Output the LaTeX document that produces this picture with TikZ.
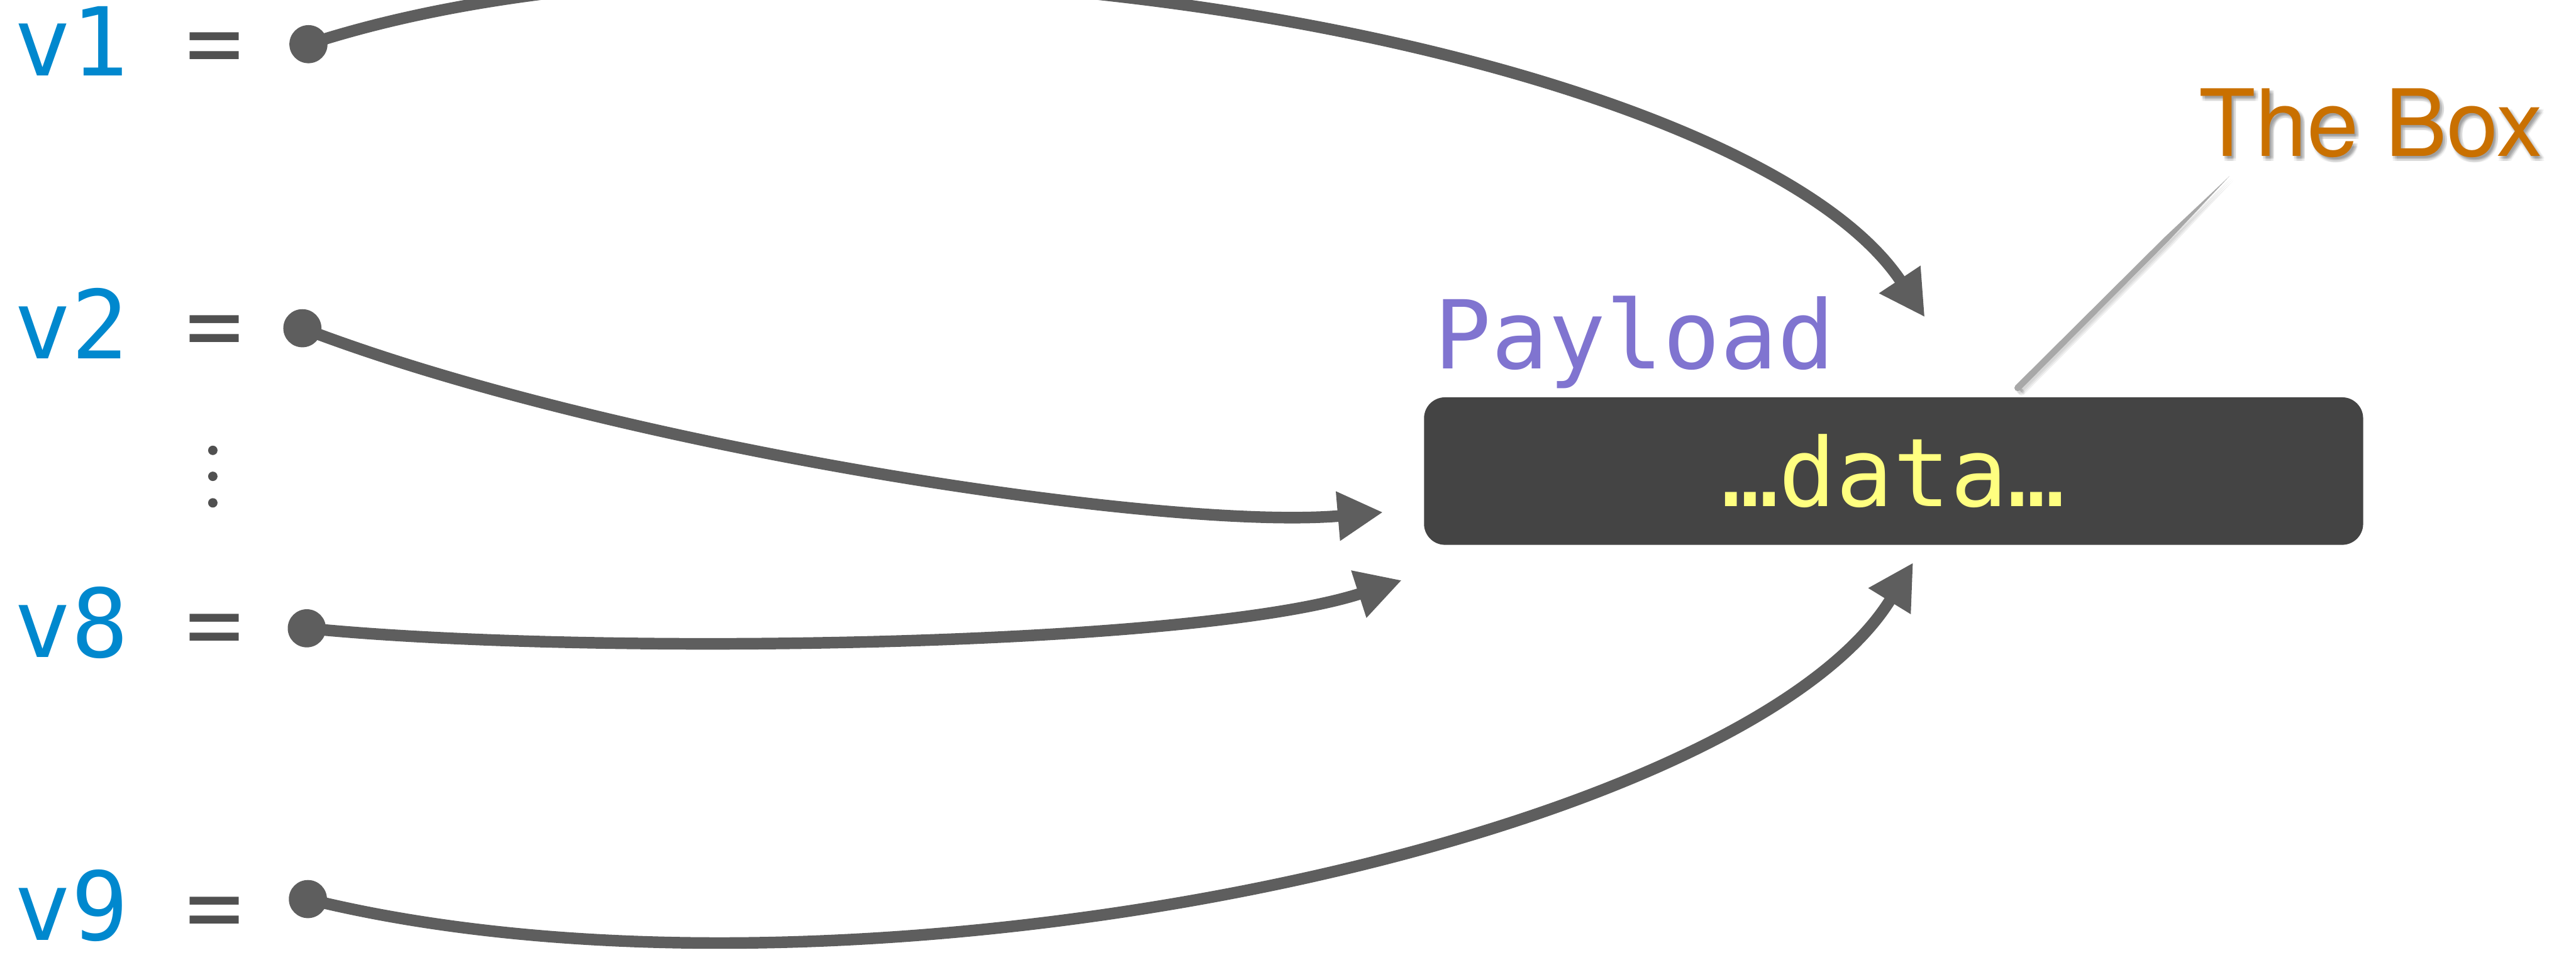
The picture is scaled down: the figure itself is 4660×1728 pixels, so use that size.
\documentclass[tikz,border=0pt]{standalone}
\usepackage{fontspec}
\newfontfamily\codefont{DejaVu Sans Mono}
\newfontfamily\labelfont{TeX Gyre Heros}
\usetikzlibrary{arrows.meta}

\definecolor{wire}{HTML}{5E5E5E}
\definecolor{boxgray}{HTML}{444444}
\definecolor{datayellow}{HTML}{FFFF80}
\definecolor{payloadpurple}{HTML}{8074D0}
\definecolor{varblue}{HTML}{0088CE}
\definecolor{eqgray}{HTML}{505050}
\definecolor{boxorange}{HTML}{C97000}
\definecolor{leadergray}{HTML}{A8A8A8}

\begin{document}
\begin{tikzpicture}[x=0.1pt,y=-0.1pt,
  dot/.style={circle,fill=wire,inner sep=0pt,minimum size=6.9pt},
  wirearrow/.style={draw=wire,line width=2.1pt,
    -{Triangle[length=8.2pt,width=8.4pt]}},
  codetext/.style={inner sep=0pt,font=\codefont\fontsize{17.2}{20}\selectfont},
  varlabel/.style={codetext,anchor=base west},
]
\useasboundingbox (0,0) rectangle (4660,1728);

% variable labels
\node[varlabel] (l1) at (24,137)  {\textcolor{varblue}{v1} \textcolor{eqgray}{=}};
\node[varlabel] (l2) at (24,649)  {\textcolor{varblue}{v2} \textcolor{eqgray}{=}};
\node[varlabel] (l8) at (24,1189) {\textcolor{varblue}{v8} \textcolor{eqgray}{=}};
\node[varlabel] (l9) at (24,1702) {\textcolor{varblue}{v9} \textcolor{eqgray}{=}};

% vertical ellipsis between v2 and v8
\foreach \yy in {815,862,910}
  \fill[eqgray] (385,\yy) circle[radius=0.85pt];

% value dots
\node[dot] (d1) at (558,80)   {};
\node[dot] (d2) at (547,594)  {};
\node[dot] (d8) at (555,1137) {};
\node[dot] (d9) at (557,1627) {};

% the payload box
\node[codetext,fill=boxgray,rounded corners=3.8pt,minimum width=169.9pt,
      minimum height=26.7pt,text=datayellow] (box) at (3425.5,852.5) {…data…};
\node[codetext,anchor=base west,text=payloadpurple] (payload) at (2593,667) {Payload};

% arrow end points around the box
\coordinate (t1) at (3482,574);
\coordinate (t2) at (2502,927);
\coordinate (t8) at (2536,1050);
\coordinate (t9) at (3461,1018);

\draw[wirearrow] (d1.center) .. controls (1461,-214) and (3150,75) .. (t1);
\draw[wirearrow] (d2.center) .. controls (1107,809) and (2104,961) .. (t2);
\draw[wirearrow] (d8.center) .. controls (1053,1187) and (2155,1173) .. (t8);
\draw[wirearrow] (d9.center) .. controls (1527,1867) and (3147,1529) .. (t9);

% callout label with a soft drop shadow
\foreach \dx in {2,5,8}
  \foreach \dy in {3,6,9}
    \node[anchor=base west,inner sep=0pt,text=black,text opacity=0.05,
          font=\labelfont\fontsize{16.8}{20}\selectfont]
      at (3976+\dx,283+\dy) {The Box};
\node[anchor=base west,inner sep=0pt,text=boxorange,
      font=\labelfont\fontsize{16.8}{20}\selectfont] (thebox) at (3976,283) {The Box};

% tapered leader stroke with shadow
\foreach \dx/\dy in {3/4,5/6,7/8}{
  \fill[black,opacity=0.06]
    (3645.8+\dx,697.8+\dy) -- (3914.6+\dx,430.4+\dy) -- (4033+\dx,319+\dy)
    -- (3921.6+\dx,437.4+\dy) -- (3654.2+\dx,706.2+\dy) -- cycle;
  \fill[black,opacity=0.06] (3650+\dx,702+\dy) circle[radius=0.6pt];
}
\coordinate (leadtop) at (4033,319);
\coordinate (leadbot) at (3650,702);
\fill[leadergray] (3645.8,697.8) -- (3914.6,430.4) -- (leadtop)
  -- (3921.6,437.4) -- (3654.2,706.2) -- cycle;
\fill[leadergray] (leadbot) circle[radius=0.6pt];
\end{tikzpicture}
\end{document}
